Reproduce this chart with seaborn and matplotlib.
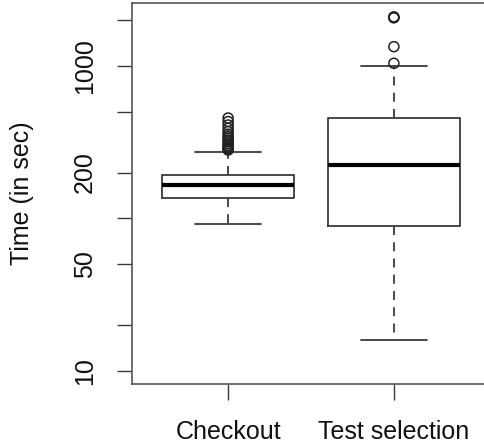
import numpy as np
import pandas as pd
import seaborn as sns
import matplotlib
matplotlib.use("Agg")
import matplotlib.pyplot as plt
from matplotlib.ticker import FixedLocator, FixedFormatter, NullLocator

# ---- data (log-scaled time axis) ----
categories = ["Checkout", "Test selection"]
whisker_low = [92.5, 16.0]
q1 = [137.0, 89.3]
median = [166.0, 224.0]
q3 = [193.0, 456.0]
whisker_high = [273.0, 1005.0]
checkout_outliers = [281, 285, 290, 296, 302, 310, 318, 326, 335, 345, 357, 372, 390, 410, 432, 456]
test_selection_outliers = [1042, 1339, 2070, 2086, 2100]

y_ticks = [10, 20, 50, 100, 200, 500, 1000, 2000]
y_tick_labels = ["10", "", "50", "", "200", "", "1000", ""]
y_label = "Time (in sec)"

# ---- build tables ----
rows = []
for i, c in enumerate(categories):
    for v in (whisker_low[i], q1[i], median[i], q3[i], whisker_high[i]):
        rows.append({"group": c, "time": v})
box_df = pd.DataFrame(rows)

out_rows = [{"group": categories[0], "time": v} for v in checkout_outliers] + \
           [{"group": categories[1], "time": v} for v in test_selection_outliers]
out_df = pd.DataFrame(out_rows)

sns.set_style("white")
plt.rcParams["font.family"] = ["Liberation Sans", "DejaVu Sans"]

W, H = 485, 448
fig = plt.figure(figsize=(W / 100, H / 100), dpi=100)
left, right, top, bottom = 132, 490, 3, 384
ax = fig.add_axes([left / W, 1 - bottom / H, (right - left) / W, (bottom - top) / H])

line_c = "#3a3a3a"
sns.boxplot(
    data=box_df, x="group", y="time", order=categories, ax=ax,
    whis=(0, 100), showfliers=False, width=0.8, log_scale=True,
    fill=False, linecolor=line_c, linewidth=1.3,
    medianprops=dict(color="black", linewidth=3.0),
    whiskerprops=dict(color=line_c, linewidth=1.3, linestyle=(0, (5, 4))),
    capprops=dict(color=line_c, linewidth=1.3),
    boxprops=dict(color=line_c, linewidth=1.3),
)

sns.stripplot(
    data=out_df, x="group", y="time", order=categories, ax=ax,
    jitter=False, marker="o", size=7.2, facecolor="none",
    edgecolor="#222222", linewidth=1.1,
)

ax.set_yscale("log")
ax.set_ylim(8.2, 2590)
ax.set_xlim(-0.58, 1.58)

ax.yaxis.set_major_locator(FixedLocator(y_ticks))
ax.yaxis.set_major_formatter(FixedFormatter(y_tick_labels))
ax.yaxis.set_minor_locator(NullLocator())
ax.tick_params(axis="y", which="major", length=10.8, width=1.0, color=line_c,
               pad=14.4, labelsize=18, labelcolor="#111111", left=True)
for lab in ax.get_yticklabels():
    lab.set_rotation(90)
    lab.set_va("center")

ax.set_xticks([0, 1])
ax.set_xticklabels(categories)
ax.tick_params(axis="x", length=11.5, width=1.0, color=line_c, pad=14.5,
               labelsize=18, labelcolor="#111111", bottom=True)

ax.set_xlabel("")
ax.set_ylabel(y_label, fontsize=18, color="#111111")
ax.yaxis.set_label_coords((34 - left) / (right - left), 0.5)

for s in ax.spines.values():
    s.set_visible(True)
    s.set_color("#555555")
    s.set_linewidth(1.2)

fig.savefig("out.png", dpi=100, facecolor="white")
